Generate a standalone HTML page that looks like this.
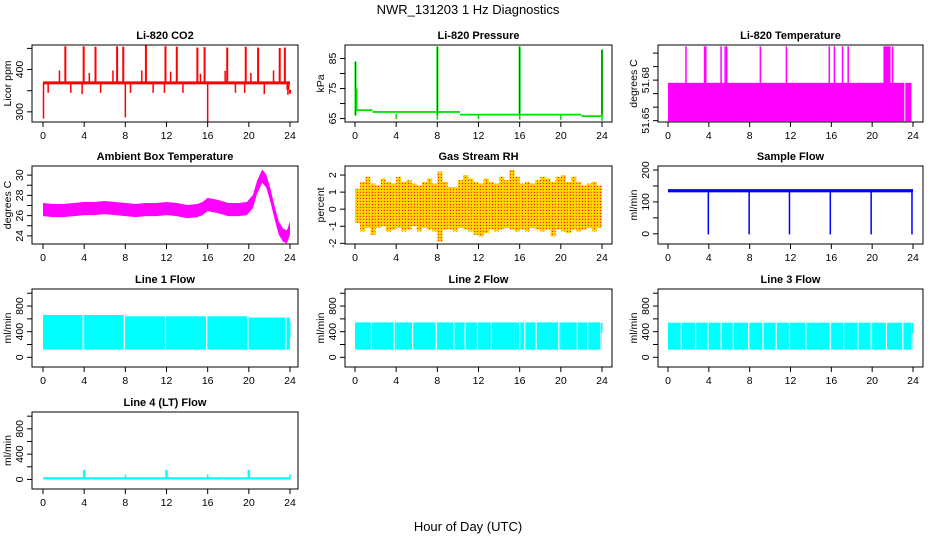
<!DOCTYPE html>
<html><head><meta charset="utf-8"><style>
body{margin:0;background:#fff}
svg{display:block;font-family:"Liberation Sans",sans-serif}
</style></head><body>
<svg id="c" width="936" height="540" viewBox="0 0 936 540">
<defs>
<pattern id="rhpat" width="3" height="3" patternUnits="userSpaceOnUse"><rect width="3" height="3" fill="#ffc800"/><rect width="1" height="1" fill="#ff2000"/><rect x="1" y="1" width="1" height="1" fill="#ffee00"/></pattern>
</defs>
<text x="468" y="14" text-anchor="middle" font-size="13">NWR_131203 1 Hz Diagnostics</text>
<text x="468" y="531" text-anchor="middle" font-size="13">Hour of Day (UTC)</text>
</svg>
<script>
// ---- data ----
const xTicks=[0,4,8,12,16,20,24];
const co2Base=[365,372];
const co2UpT=[2.17,3.95,5.1,7.2,7.8,10.0,11.9,13.0,15.0,15.7,17.9,19.7,20.9,23.0,23.5];
const co2UpV=[455,455,454,455,454,457,455,454,452,453,452,454,452,451,452];
const co2SmT=[1.6,4.5,6.8,9.6,12.4,15.3,17.7,20.2,22.4];
const co2SmV=[398,392,398,398,395,390,397,392,398];
const co2DnT=[0.5,2.7,3.8,5.6,8.5,10.7,11.8,13.6,18.7,19.6,21.5,23.8];
const co2DnV=[345,345,342,345,345,345,345,345,345,345,342,340];
const co2DeepT=[0.05,8.0,16.0];
const co2DeepV=[284,287,276];
const presT=[0,1.7,10.2,22,24];
const presV=[67.8,67.2,66.3,65.8];
const presSpT=[0.05,8.0,16.0,24.0];
const presSpV=[84,89,89,88];
const presDnT=[4,8,12,16,20,24];
const presDnV=[64.8,64.6,64.8,64.6,64.6,64.2];
const ltBase=[51.6495,51.678];
const ltSpT=[1.76,3.58,3.7,5.2,5.6,5.75,9.05,11.6,15.8,16.3,17.1,17.65,22.0];
const ltSpV=51.705;
const ltBlock=[21.1,21.8];
const ambT=[0,1,2,3,4,5,6,7,8,9,10,11,12,13,14,15,15.5,16,17,18,19,19.8,20.4,20.8,21.3,21.7,22.1,22.5,22.9,23.3,23.7,24];
const ambV=[26.6,26.5,26.5,26.6,26.7,26.7,26.8,26.7,26.6,26.5,26.6,26.6,26.7,26.6,26.4,26.5,26.7,27.1,26.9,26.6,26.6,26.7,27.4,28.8,29.9,29.4,28.0,26.3,24.8,24.1,23.9,24.8];
const rhUp=[1.2,1.6,1.9,1.5,1.4,1.8,1.6,1.5,1.9,1.6,1.7,1.5,1.4,1.6,1.8,1.5,2.2,1.6,1.3,1.3,1.7,2.0,1.8,1.6,1.5,1.8,1.6,1.5,1.9,1.7,2.3,1.9,1.5,1.6,1.5,1.7,1.9,1.8,1.6,1.9,2.0,1.6,1.9,1.6,1.4,1.5,1.6,1.4];
const rhLo=[-0.8,-1.3,-1.1,-1.5,-1.1,-1.0,-1.3,-1.2,-1.1,-1.3,-1.2,-1.0,-1.3,-1.1,-1.2,-1.3,-1.9,-1.2,-1.2,-1.3,-1.1,-1.2,-1.3,-1.5,-1.6,-1.4,-1.2,-1.3,-1.2,-1.1,-1.2,-1.3,-1.2,-1.3,-1.1,-1.2,-1.3,-1.2,-1.6,-1.2,-1.3,-1.4,-1.2,-1.3,-1.2,-1.1,-1.3,-1.1];
const sfBase=[130,140];
const sfDropT=[3.95,7.95,11.9,15.9,19.9,23.9];
const l1Top=[660,660,640,640,640,620];
const l1Bot=120;
const l1Gaps=[3.9,7.9,11.9,15.9,19.9,23.6];
const l2Top=545, l2Bot=120;
const l2Gaps=[1.6,3.8,5.6,7.9,9.6,10.7,11.9,13.25,16,16.5,17.6,19.8,21.6,22.6,23.9];
const l3Top=540, l3Bot=120;
const l3Gaps=[1.3,2.7,3.9,5.2,6.4,7.9,9.3,10.6,11.9,13.5,15.9,17.2,18.6,19.9,21.4,23.0,23.9];
const l4Base=20;
const l4SpT=[4,8,12,16,20,24];
const l4SpV=[150,80,150,80,150,80];

// ---- layout ----
const svg=document.getElementById('c');
const NS='http://www.w3.org/2000/svg';
const boxL=[32,345,658],boxR=[298,612,923],x0s=[43,355,668],x24s=[290,602,913];
const rowT=[45,166,289,412],rowB=[122,244,367,489];
function mk(tag,attrs,parent){const e=document.createElementNS(NS,tag);for(const k in attrs)e.setAttribute(k,attrs[k]);(parent||svg).appendChild(e);return e;}
let clipId=0;
function panel(col,row,title,ylab,ylim,ticks,labels,name){
  const L=boxL[col],R=boxR[col],T=rowT[row],B=rowB[row];
  const g=mk('g',{});
  
  
  const X=h=>x0s[col]+(x24s[col]-x0s[col])*h/24;
  const Y=v=>B-(v-ylim[0])/(ylim[1]-ylim[0])*(B-T);
  const cid='cl'+(clipId++);
  const cp=mk('clipPath',{id:cid},g);mk('rect',{x:L,y:T,width:R-L,height:B-T},cp);
  const plot=mk('g',{'clip-path':'url(#'+cid+')'},g);
  
  
  const t=mk('text',{x:(L+R)/2,y:T-6,'text-anchor':'middle','font-size':11,'font-weight':'bold'},g);t.textContent=title;
  
  
  xTicks.forEach(h=>{mk('line',{x1:X(h),x2:X(h),y1:B,y2:B+5,stroke:'#000'},g);
    const tx=mk('text',{x:X(h),y:B+17,'text-anchor':'middle','font-size':10.5},g);tx.textContent=h;
    
    });
  ticks.forEach((v,i)=>{mk('line',{x1:L-5,x2:L,y1:Y(v),y2:Y(v),stroke:'#000'},g);
    if(labels[i]!==''){const tx=mk('text',{x:L-9,y:Y(v),'text-anchor':'middle','font-size':10.5,transform:`rotate(-90 ${L-9} ${Y(v)})`},g);tx.textContent=labels[i];
    
    }});
  const yl=mk('text',{x:L-21,y:(T+B)/2,'text-anchor':'middle','font-size':10.5,transform:`rotate(-90 ${L-21} ${(T+B)/2})`},g);yl.textContent=ylab;
  
  
  mk('rect',{x:L,y:T,width:R-L,height:B-T,fill:'none',stroke:'#000'},g);
  return {X,Y,plot};
}
function vline(p,h,a,b,col,w){mk('line',{x1:p.X(h),x2:p.X(h),y1:p.Y(a),y2:p.Y(b),stroke:col,'stroke-width':w||1.5},p.plot);}
function band(p,h1,h2,a,b,col){mk('rect',{x:p.X(h1),y:p.Y(b),width:p.X(h2)-p.X(h1),height:p.Y(a)-p.Y(b),fill:col},p.plot);}

// CO2
let p=panel(0,0,'Li-820 CO2','Licor ppm',[276,458],[300,350,400,450],['300','','400',''],'co2');
band(p,0,24,co2Base[0],co2Base[1],'#ff0000');
co2UpT.forEach((h,i)=>vline(p,h,368,co2UpV[i],'#ff0000',2));
co2SmT.forEach((h,i)=>vline(p,h,368,co2SmV[i],'#ff0000',1.5));
co2DnT.forEach((h,i)=>vline(p,h,368,co2DnV[i],'#ff0000',1.5));
co2DeepT.forEach((h,i)=>vline(p,h,368,co2DeepV[i],'#ff0000',1.5));
vline(p,23.8,368,352,'#ff0000',3);vline(p,24,352,343,'#ff0000',2);

// Pressure
p=panel(1,0,'Li-820 Pressure','kPa',[63.85,89.5],[65,70,75,80,85],['65','','75','','85'],'pressure');
presV.forEach((v,i)=>band(p,presT[i],presT[i+1],v-0.3,v+0.3,'#00e000'));
presSpT.forEach((h,i)=>{vline(p,h,66,presSpV[i],'#00e000',2);vline(p,h,66,presSpV[i],'#222',0.6);});
presDnT.forEach((h,i)=>vline(p,h,66.5,presDnV[i],'#00e000',1.5));
vline(p,0.15,67.5,75,'#00e000',2);

// Li temp
p=panel(2,0,'Li-820 Temperature','degrees C',[51.649,51.706],[51.65,51.66,51.67,51.68,51.69,51.70],['51.65','','','51.68','',''],'li-temp');
band(p,0,23.85,ltBase[0],ltBase[1],'#ff00ff');
vline(p,23.2,ltBase[0],ltBase[1],'#fff',1);
ltSpT.forEach(h=>vline(p,h,51.67,ltSpV,'#ff00ff',1.5));
band(p,ltBlock[0],ltBlock[1],51.67,ltSpV,'#ff00ff');

// Ambient
p=panel(0,1,'Ambient Box Temperature','degrees C',[23.2,30.9],[24,25,26,27,28,29,30],['24','','26','','28','','30'],'ambient-temp');
{let up='';ambT.forEach((h,i)=>{up+=(i?'L':'M')+p.X(h)+','+p.Y(ambV[i]+0.65);});
for(let i=ambT.length-1;i>=0;i--)up+='L'+p.X(ambT[i])+','+p.Y(ambV[i]-0.65);
mk('path',{d:up+'Z',fill:'#ff00ff'},p.plot);}

// RH
p=panel(1,1,'Gas Stream RH','percent',[-2.04,2.53],[-2,-1,0,1,2],['-2','-1','0','1','2'],'gas-rh');
rhUp.forEach((v,i)=>{const h1=i*0.5,h2=h1+0.5;
  mk('rect',{x:p.X(h1),y:p.Y(v),width:p.X(h2)-p.X(h1),height:p.Y(rhLo[i])-p.Y(v),fill:'url(#rhpat)'},p.plot);});

// Sample flow
p=panel(2,1,'Sample Flow','ml/min',[-32,212.6],[0,50,100,150,200],['0','','100','','200'],'sample-flow');
band(p,0,24,sfBase[0],sfBase[1],'#0000ff');
sfDropT.forEach(h=>vline(p,h,135,-2,'#0000ff',1.5));

// Line flows
function flows(col,row,title,tops,bot,gaps,name){
  const q=panel(col,row,title,'ml/min',[-151,1066],[0,200,400,600,800,1000],['0','','400','','800',''],name);
  for(let i=0;i<6;i++){const t=Array.isArray(tops)?tops[i]:tops;band(q,i*4,Math.min(i*4+4,24),bot,t,'#00ffff');}
  gaps.forEach(h=>vline(q,h,bot-5,1100,'#fff',1.2));
  return q;
}
p=flows(0,2,'Line 1 Flow',l1Top,l1Bot,l1Gaps,'line1-flow');
band(p,23.9,24.05,300,550,'#00ffff');
p=flows(1,2,'Line 2 Flow',l2Top,l2Bot,l2Gaps,'line2-flow');
band(p,23.9,24.05,380,540,'#00ffff');
p=flows(2,2,'Line 3 Flow',l3Top,l3Bot,l3Gaps,'line3-flow');
band(p,23.9,24.05,380,540,'#00ffff');

// Line 4
p=panel(0,3,'Line 4 (LT) Flow','ml/min',[-151,1066],[0,200,400,600,800,1000],['0','','400','','800',''],'line4-flow');
band(p,0,24,0,l4Base+15,'#00ffff');
l4SpT.forEach((h,i)=>vline(p,h,0,l4SpV[i],'#00ffff',i%2?1.5:2.5));
</script>
</body></html>
